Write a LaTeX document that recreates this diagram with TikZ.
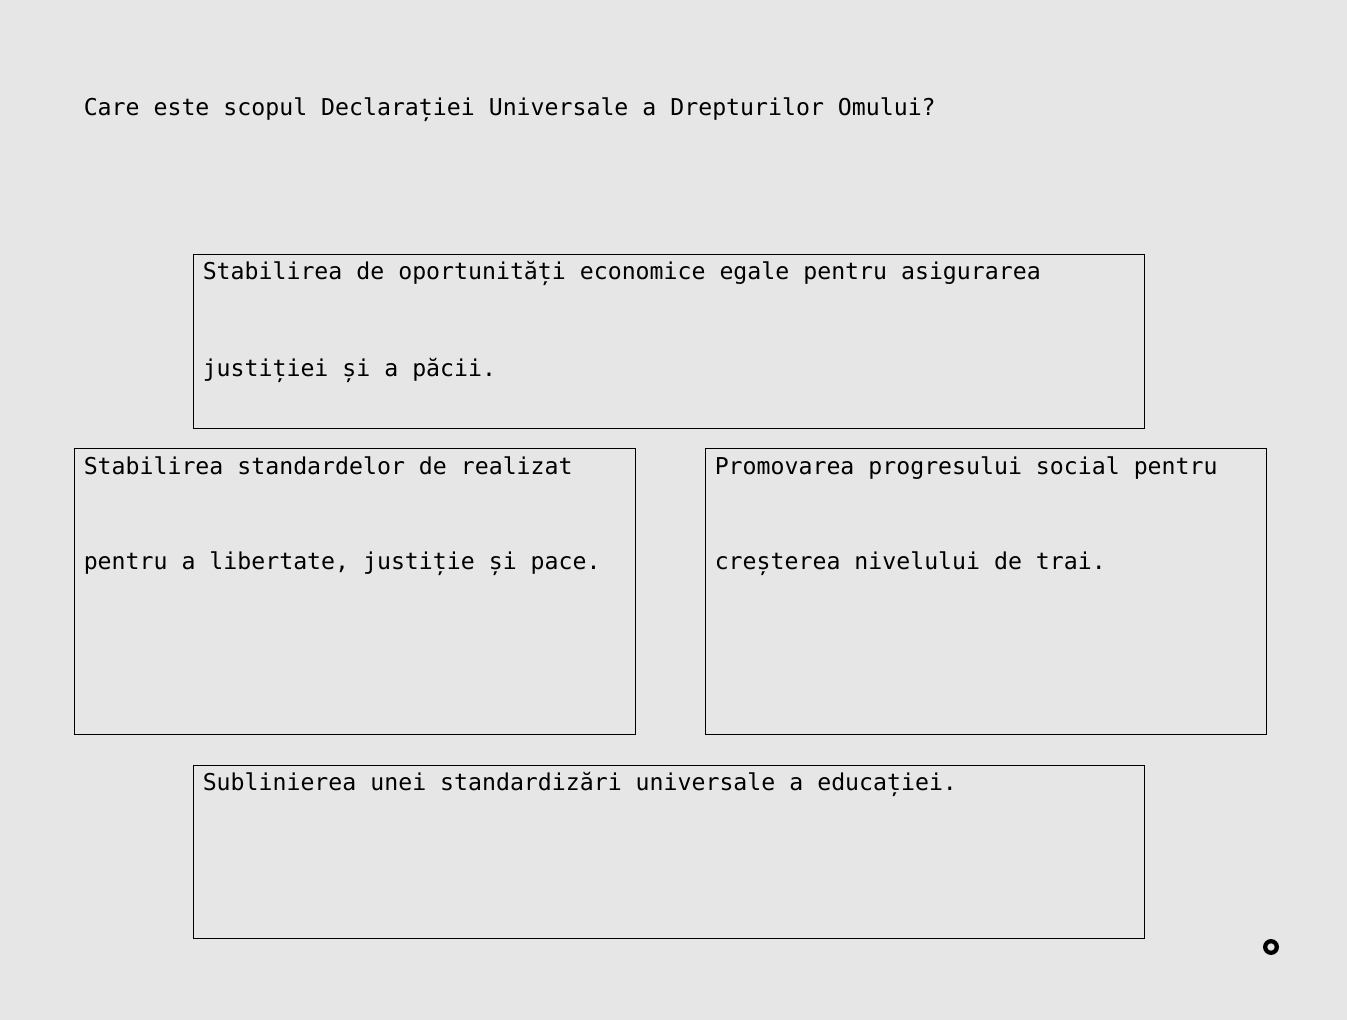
\documentclass[tikz,border=0pt]{standalone}
\usepackage{fontspec}
\setmonofont{DejaVu Sans Mono}
\definecolor{bg}{HTML}{E6E6E6}
\tikzset{
  box/.style={draw=black, line width=0.75pt, fill=none, inner sep=0pt, rectangle},
  txt/.style={anchor=base west, inner sep=0pt, font=\ttfamily\fontsize{17.4pt}{20pt}\selectfont, text=black},
}
\begin{document}
\begin{tikzpicture}[x=0.75pt,y=-0.75pt]
\fill[bg] (0,0) rectangle (1347,1020);
\useasboundingbox (0,0) rectangle (1347,1020);
\node[txt] (title) at (83.5,116) {Care este scopul Declarației Universale a Drepturilor Omului?};
\node[box, minimum width=713.25pt, minimum height=129.75pt] (b1) at (668.5,341.5) {};
\node[box, minimum width=420.75pt, minimum height=214.5pt] (b2) at (354.5,591) {};
\node[box, minimum width=420.75pt, minimum height=214.5pt] (b3) at (985.5,591) {};
\node[box, minimum width=713.25pt, minimum height=129.75pt] (b4) at (668.5,851.5) {};
\node[txt] (t1a) at (202.5,280) {Stabilirea de oportunități economice egale pentru asigurarea};
\node[txt] (t1b) at (202.5,376) {justiției și a păcii.};
\node[txt] (t2a) at (83.5,474) {Stabilirea standardelor de realizat};
\node[txt] (t2b) at (83.5,569) {pentru a libertate, justiție și pace.};
\node[txt] (t3a) at (714.5,474) {Promovarea progresului social pentru};
\node[txt] (t3b) at (714.5,569) {creșterea nivelului de trai.};
\node[txt] (t4) at (202.5,790) {Sublinierea unei standardizări universale a educației.};
\draw[line width=3.2pt] (1271,947) circle[radius=5.8];
\end{tikzpicture}
\end{document}
